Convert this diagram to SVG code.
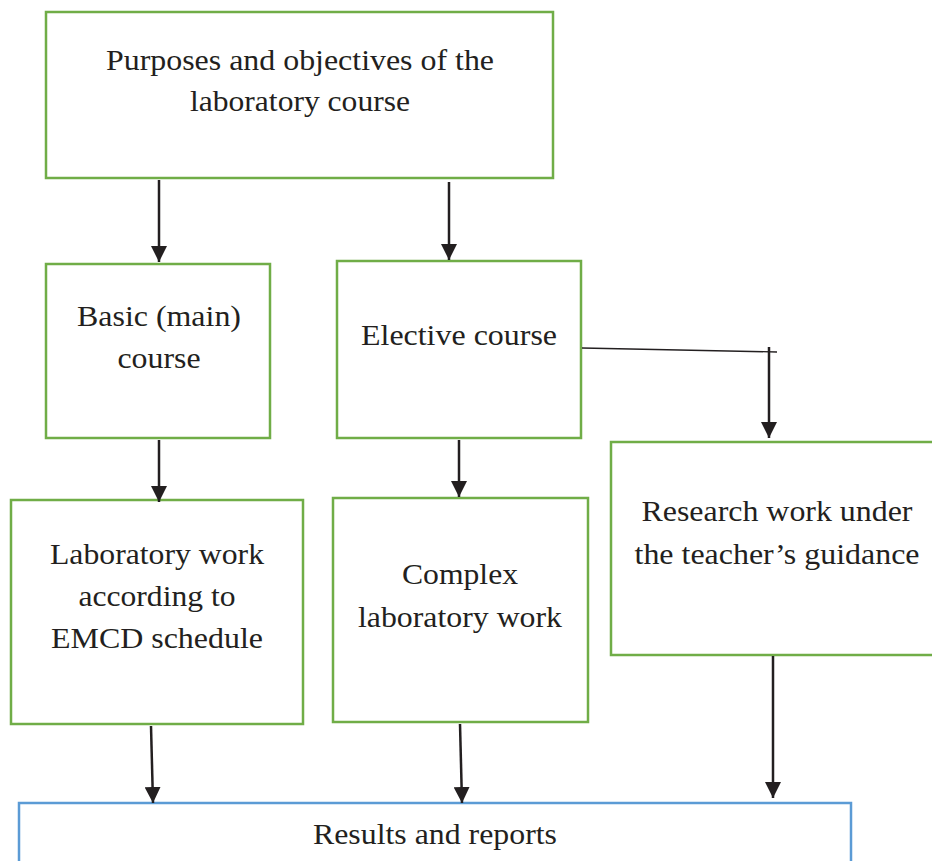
<svg xmlns="http://www.w3.org/2000/svg" width="932" height="861" viewBox="0 0 932 861">
<defs>
<style>
.box{fill:#fff;stroke:#70AD47;stroke-width:2.5}
.blue{fill:#fff;stroke:#5B9BD5;stroke-width:2.5}
.t{font-family:"Liberation Serif","Times New Roman",serif;font-size:30px;fill:#231F20;text-anchor:middle}
.c{stroke:#231F20;stroke-width:2.5;fill:none}
.thin{stroke:#231F20;stroke-width:1.3;fill:none}
</style>
<marker id="ah" viewBox="0 0 16 16" refX="16" refY="8" markerWidth="16" markerHeight="16" markerUnits="userSpaceOnUse" orient="auto">
<path d="M0,0 L16,8 L0,16 Z" fill="#231F20"/>
</marker>
</defs>
<g id="n-purposes"><rect class="box" x="46" y="12" width="507" height="166"/>
<text class="t" x="300" y="70" textLength="388" lengthAdjust="spacingAndGlyphs">Purposes and objectives of the</text>
<text class="t" x="300" y="111" textLength="220" lengthAdjust="spacingAndGlyphs">laboratory course</text></g>
<g id="n-basic"><rect class="box" x="46" y="264" width="224" height="174"/>
<text class="t" x="159" y="326" textLength="164" lengthAdjust="spacingAndGlyphs">Basic (main)</text>
<text class="t" x="159" y="368" textLength="83" lengthAdjust="spacingAndGlyphs">course</text></g>
<g id="n-elective"><rect class="box" x="337" y="261" width="244" height="177"/>
<text class="t" x="459" y="345" textLength="196" lengthAdjust="spacingAndGlyphs">Elective course</text></g>
<g id="n-labwork"><rect class="box" x="11" y="500" width="292" height="224"/>
<text class="t" x="157" y="564" textLength="214" lengthAdjust="spacingAndGlyphs">Laboratory work</text>
<text class="t" x="157" y="606" textLength="157" lengthAdjust="spacingAndGlyphs">according to</text>
<text class="t" x="157" y="648" textLength="212" lengthAdjust="spacingAndGlyphs">EMCD schedule</text></g>
<g id="n-complex"><rect class="box" x="333" y="498" width="255" height="224"/>
<text class="t" x="460" y="584" textLength="116" lengthAdjust="spacingAndGlyphs">Complex</text>
<text class="t" x="460" y="627" textLength="204" lengthAdjust="spacingAndGlyphs">laboratory work</text></g>
<g id="n-research"><rect class="box" x="611" y="442" width="340" height="213"/>
<text class="t" x="777" y="521" textLength="271" lengthAdjust="spacingAndGlyphs">Research work under</text>
<text class="t" x="777" y="564" textLength="285" lengthAdjust="spacingAndGlyphs">the teacher’s guidance</text></g>
<g id="n-results"><rect class="blue" x="19" y="803" width="832" height="80"/>
<text class="t" x="435" y="844" textLength="244" lengthAdjust="spacingAndGlyphs">Results and reports</text></g>
<g id="connectors">
<line class="c" x1="159" y1="180" x2="159" y2="262" marker-end="url(#ah)"/>
<line class="c" x1="449" y1="182" x2="449" y2="260" marker-end="url(#ah)"/>
<line class="c" x1="159" y1="440" x2="159" y2="502" marker-end="url(#ah)"/>
<line class="c" x1="459" y1="440" x2="459" y2="497" marker-end="url(#ah)"/>
<line class="thin" x1="582" y1="348" x2="777" y2="352"/>
<line class="c" x1="769" y1="347" x2="769" y2="438" marker-end="url(#ah)"/>
<line class="c" x1="151" y1="726" x2="153" y2="803" marker-end="url(#ah)"/>
<line class="c" x1="460" y1="724" x2="462" y2="803" marker-end="url(#ah)"/>
<line class="c" x1="773" y1="656" x2="773" y2="798" marker-end="url(#ah)"/>
</g>
</svg>
